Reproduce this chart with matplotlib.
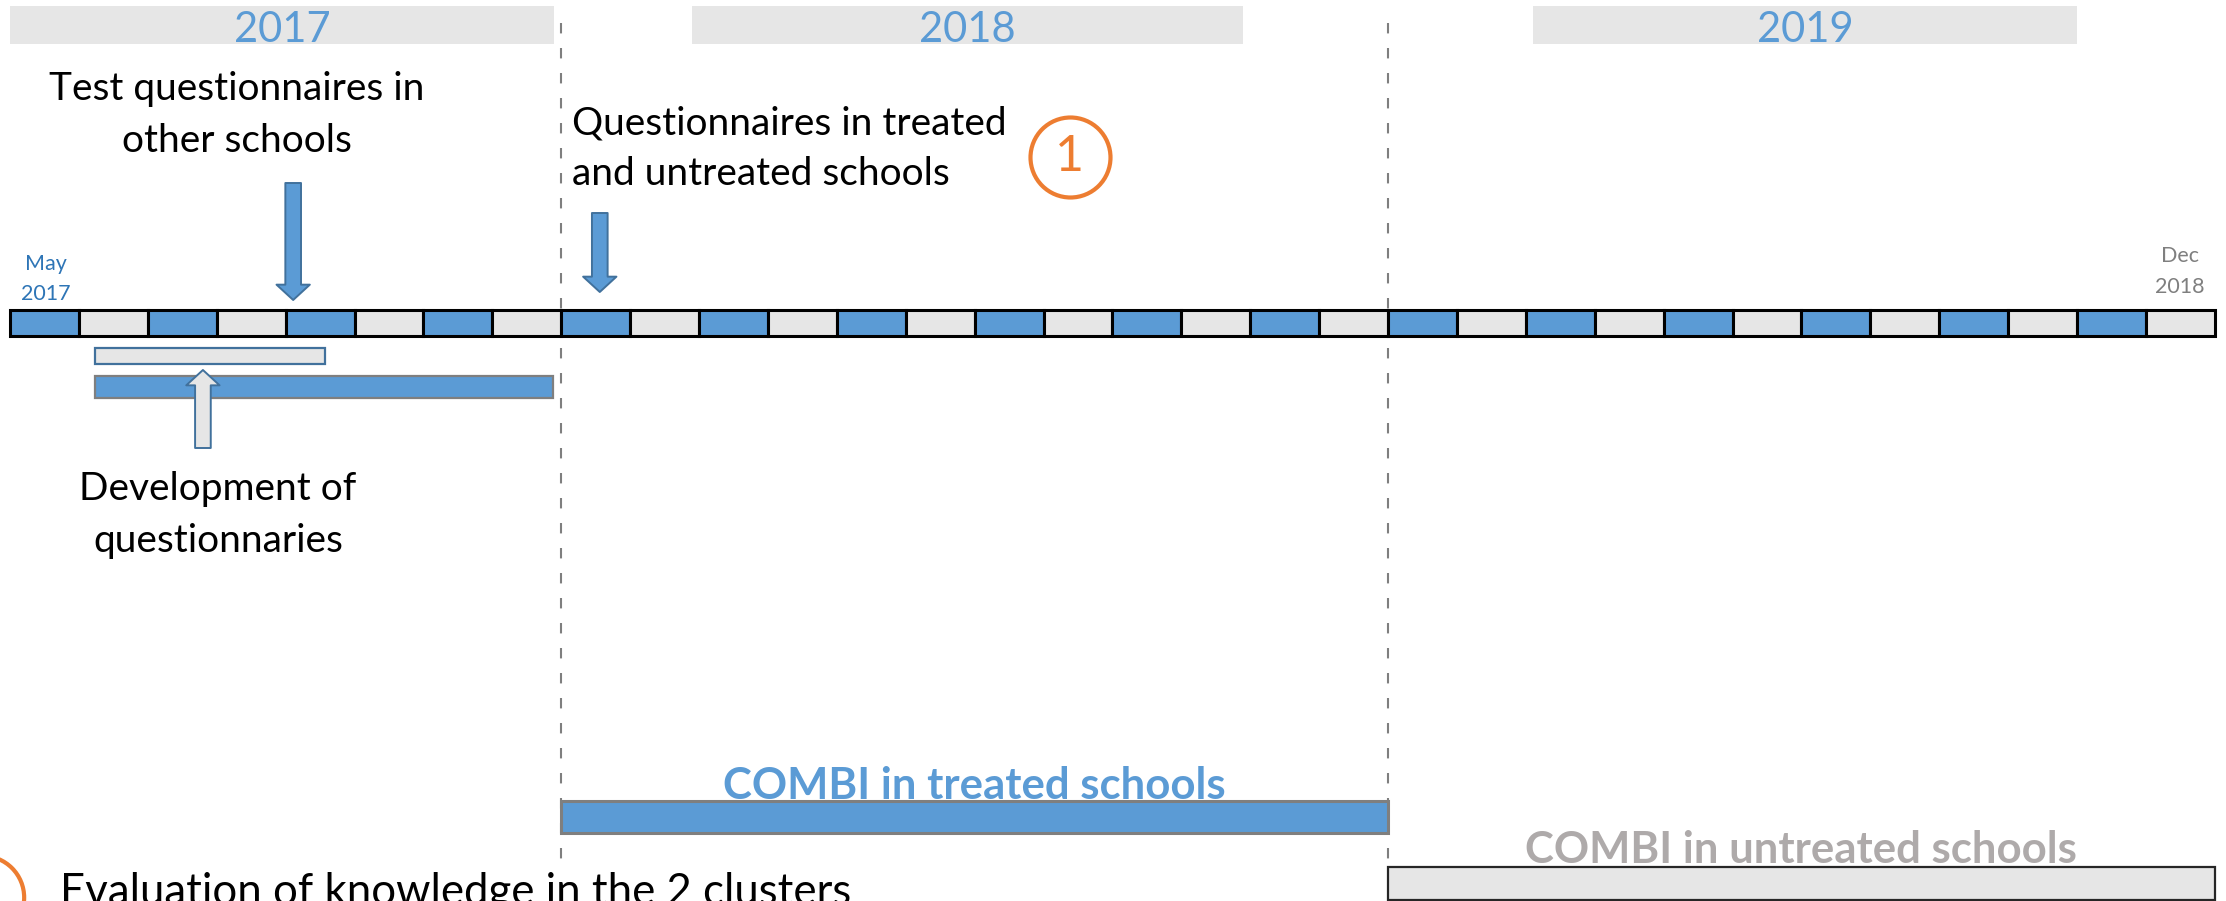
import matplotlib
matplotlib.use('Agg')
from matplotlib import pyplot as plt

# --- data (months counted from May 2017, one cell per month) ---
n_months = 32
years = ['2017', '2018', '2019']
year_start = [0.0, 9.9, 22.1]
year_end = [7.9, 17.9, 30.0]
phase_breaks = [8, 20]

start_label = 'May\n2017'
end_label = 'Dec\n2018'

dev_light_start, dev_light_end = 1.23, 4.57
dev_blue_start, dev_blue_end = 1.23, 7.88

test_month = 4.11          # test questionnaires in other schools
quest_month = 8.56         # questionnaires in treated / untreated schools
dev_month = 2.80           # development of questionnaries
circle_month = 15.38
eval_circle_month = -0.41

treated_start, treated_end = 8, 20
untreated_start, untreated_end = 20, 32

# --- style ---
BLUE = '#5B9BD5'
LIGHT = '#E6E6E6'
EDGE_BLUE = '#41719C'
GREY = '#7F7F7F'
ORANGE = '#ED7D31'

plt.rcParams['font.family'] = ['Lato', 'DejaVu Sans']

W, H = 2226, 901
px = 68.9   # pixels per month
x0 = 10     # pixel of month 0

fig = plt.figure(figsize=(W / 100, H / 100), dpi=100)
ax = fig.add_axes([0, 0, 1, 1])
ax.set_xlim(-x0 / px, (W - x0) / px)
ax.set_ylim(H, 0)
ax.axis('off')


def lines(x, y, text, gap, **kw):
    """draw each line separately so baselines land where wanted"""
    for i, t in enumerate(text.split('\n')):
        ax.text(x, y + i * gap, t, va='baseline', **kw)


# year header boxes
for name, s, e in zip(years, year_start, year_end):
    ax.bar(s, 38, width=e - s, bottom=6, align='edge', color=LIGHT, lw=0)
    ax.text((s + e) / 2, 42, name, ha='center', va='baseline',
            fontsize=30, color=BLUE)

# phase separators
for b in phase_breaks:
    ax.plot([b, b], [23, 867], color=GREY, lw=1.5, ls=(0, (5, 7)), zorder=1)

# month strip
months = list(range(n_months))
colors = [BLUE if m % 2 == 0 else LIGHT for m in months]
ax.bar(months, 26, width=1, bottom=310, align='edge', color=colors,
       edgecolor='black', lw=2.2, zorder=3)

lines((46 - x0) / px, 270, start_label, 30, ha='center',
      fontsize=15.5, color='#2E75B6')
lines((2180 - x0) / px, 262, end_label, 31, ha='center',
      fontsize=15.5, color=GREY)

# development bars
ax.bar(dev_light_start, 16, width=dev_light_end - dev_light_start, bottom=348,
       align='edge', color=LIGHT, edgecolor=EDGE_BLUE, lw=1.6, zorder=3)
ax.bar(dev_blue_start, 22, width=dev_blue_end - dev_blue_start, bottom=376,
       align='edge', color=BLUE, edgecolor=GREY, lw=1.6, zorder=3)

# block arrows
arrow_kw = dict(arrowstyle='simple,head_length=0.46,head_width=1.0,tail_width=0.47',
                mutation_scale=24, shrinkA=0, shrinkB=0, lw=1.4)
ax.annotate('', xy=(test_month, 300), xytext=(test_month, 183),
            arrowprops=dict(fc=BLUE, ec=EDGE_BLUE, **arrow_kw), zorder=4)
ax.annotate('', xy=(quest_month, 292), xytext=(quest_month, 213),
            arrowprops=dict(fc=BLUE, ec=EDGE_BLUE, **arrow_kw), zorder=4)
ax.annotate('', xy=(dev_month, 370), xytext=(dev_month, 448),
            arrowprops=dict(fc=LIGHT, ec=EDGE_BLUE, **arrow_kw), zorder=4)

# annotations
lines((237 - x0) / px, 100, 'Test questionnaires in\nother schools', 52,
      ha='center', fontsize=28, color='black')
lines((572 - x0) / px, 135, 'Questionnaires in treated\nand untreated schools', 50,
      ha='left', fontsize=28, color='black')
lines((218 - x0) / px, 500, 'Development of\nquestionnaries', 52,
      ha='center', fontsize=28, color='black')

ax.plot([circle_month], [157], marker='o', ms=57.6, mfc='none', mec=ORANGE,
        mew=3, clip_on=False)
ax.text(circle_month, 157, '1', ha='center', va='center', fontsize=36,
        color=ORANGE)

# COMBI periods
ax.bar(treated_start, 32, width=treated_end - treated_start, bottom=801,
       align='edge', color=BLUE, edgecolor=GREY, lw=2.2, zorder=3)
ax.text((treated_start + treated_end) / 2, 799, 'COMBI in treated schools',
        ha='center', va='baseline', fontsize=31.5, fontweight='bold', color=BLUE,
        zorder=5)
ax.bar(untreated_start, 33, width=untreated_end - untreated_start, bottom=867,
       align='edge', color=LIGHT, edgecolor='#262626', lw=1.6, zorder=3)
ax.text((untreated_start + untreated_end) / 2, 863, 'COMBI in untreated schools',
        ha='center', va='baseline', fontsize=31.5, fontweight='bold',
        color='#AEAAAA', zorder=5)

# footnote, partly cut by the frame as in the source slide
ax.plot([eval_circle_month], [897], marker='o', ms=60, mfc='none', mec=ORANGE,
        mew=3, clip_on=False)
ax.text((60 - x0) / px, 905, 'Evaluation of knowledge in the 2 clusters',
        ha='left', va='baseline', fontsize=31.5, color='black')

fig.savefig('out.png', dpi=100)
